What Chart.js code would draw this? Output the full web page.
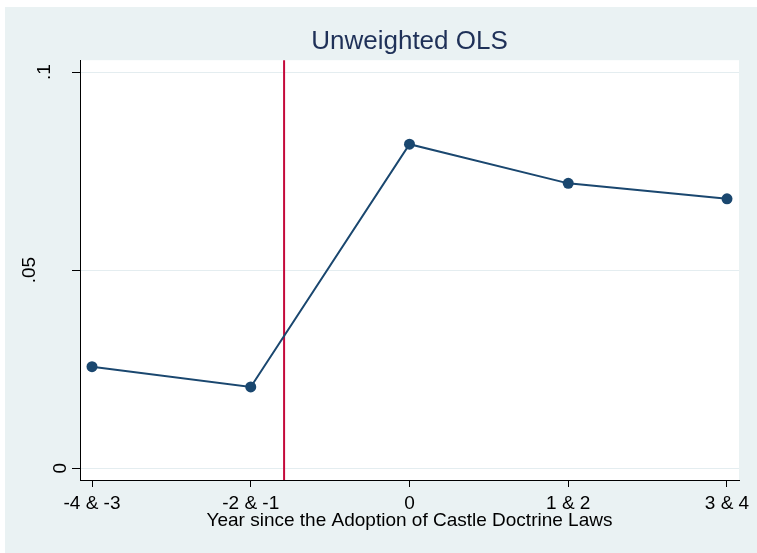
<!DOCTYPE html>
<html>
<head>
<meta charset="utf-8">
<title>Unweighted OLS</title>
<script src="https://cdn.jsdelivr.net/npm/chart.js@4.4.1/dist/chart.umd.min.js"></script>
<style>
    html, body { margin: 0; padding: 0; background: #ffffff; }
    #chart { display: block; }
</style>
</head>
<body>
<canvas id="chart" width="757" height="553"></canvas>
<script>
// event-study style plot: Stata look
const categories = ['-4 & -3', '-2 & -1', '0', '1 & 2', '3 & 4'];
const estimates = [0.0256, 0.0205, 0.0818, 0.0719, 0.0680];
const yTicks = [0, 0.05, 0.1];
const yTickLabels = ['0', '.05', '.1'];
const adoptionLine = 1.21; // position of the red reference line on the category axis

const FONT = '"Liberation Sans", Arial, sans-serif';
const NAVY = '#1a476f';
const BG = '#eaf2f3';

// background, plot region and the red line
const stataFrame = {
    id: 'stataFrame',
    beforeDraw(chart) {
        const ctx = chart.ctx;
        const a = chart.chartArea;
        ctx.save();
        ctx.fillStyle = '#ffffff';
        ctx.fillRect(0, 0, chart.width, chart.height);
        ctx.fillStyle = BG;
        ctx.fillRect(5, 7, chart.width - 5, chart.height - 7);
        ctx.fillStyle = '#ffffff';
        ctx.fillRect(a.left, a.top, a.right - a.left, a.bottom - a.top);
        ctx.restore();
    },
    beforeDatasetsDraw(chart) {
        const ctx = chart.ctx;
        const a = chart.chartArea;
        const x = chart.scales.x.getPixelForValue(adoptionLine);
        ctx.save();
        ctx.strokeStyle = '#c4093b';
        ctx.lineWidth = 2;
        ctx.beginPath();
        ctx.moveTo(x, a.top);
        ctx.lineTo(x, a.bottom);
        ctx.stroke();
        ctx.restore();
    },
    afterDraw(chart) {
        // rotated y labels, placed the way Stata shifts them by length
        const ctx = chart.ctx;
        const y = chart.scales.y;
        ctx.save();
        ctx.fillStyle = '#000000';
        ctx.font = '19px ' + FONT;
        ctx.textAlign = 'center';
        ctx.textBaseline = 'alphabetic';
        yTicks.forEach((v, i) => {
            const label = yTickLabels[i];
            const bx = y.left + y.width + 1 - 15.4 * label.length;
            ctx.save();
            ctx.translate(bx, y.getPixelForValue(v));
            ctx.rotate(-Math.PI / 2);
            ctx.fillText(label, 0, 0);
            ctx.restore();
        });
        ctx.restore();
    }
};

new Chart(document.getElementById('chart'), {
    type: 'line',
    data: {
        datasets: [{
            data: estimates.map((v, i) => ({ x: i, y: v })),
            borderColor: NAVY,
            backgroundColor: NAVY,
            borderWidth: 2,
            pointRadius: 5.5,
            pointBackgroundColor: NAVY,
            pointBorderColor: NAVY,
            pointBorderWidth: 0,
            tension: 0,
            fill: false
        }]
    },
    options: {
        responsive: false,
        animation: false,
        layout: {
            padding: { left: 0, right: 18, top: 0, bottom: 0 }
        },
        plugins: {
            legend: { display: false },
            tooltip: { enabled: false },
            title: {
                display: true,
                text: 'Unweighted OLS',
                color: '#1f3158',
                fullSize: false,
                font: { family: FONT, size: 26, weight: 'normal' },
                padding: { top: 26, bottom: 3 }
            }
        },
        scales: {
            x: {
                type: 'linear',
                min: -0.0756,
                max: 4.0756,
                afterBuildTicks: (scale) => {
                    scale.ticks = categories.map((c, i) => ({ value: i }));
                },
                afterFit: (scale) => { scale.height = 73; },
                ticks: {
                    color: '#000000',
                    font: { family: FONT, size: 19 },
                    padding: 5,
                    maxRotation: 0,
                    autoSkip: false,
                    callback: (value) => categories[value]
                },
                grid: {
                    drawOnChartArea: false,
                    drawTicks: true,
                    tickLength: 7,
                    tickColor: '#000000'
                },
                border: { display: true, color: '#000000', width: 1 },
                title: {
                    display: true,
                    text: 'Year since the Adoption of Castle Doctrine Laws',
                    color: '#000000',
                    font: { family: FONT, size: 19 },
                    padding: { top: 0, bottom: 21 }
                }
            },
            y: {
                type: 'linear',
                min: -0.003,
                max: 0.103,
                afterBuildTicks: (scale) => {
                    scale.ticks = yTicks.map(v => ({ value: v }));
                },
                afterFit: (scale) => { scale.width = 80; },
                ticks: { display: false },
                grid: {
                    color: '#e4edf0',
                    lineWidth: 1,
                    drawTicks: true,
                    tickLength: 8,
                    tickColor: '#000000'
                },
                border: { display: true, color: '#000000', width: 1 }
            }
        }
    },
    plugins: [stataFrame]
});
</script>
</body>
</html>
